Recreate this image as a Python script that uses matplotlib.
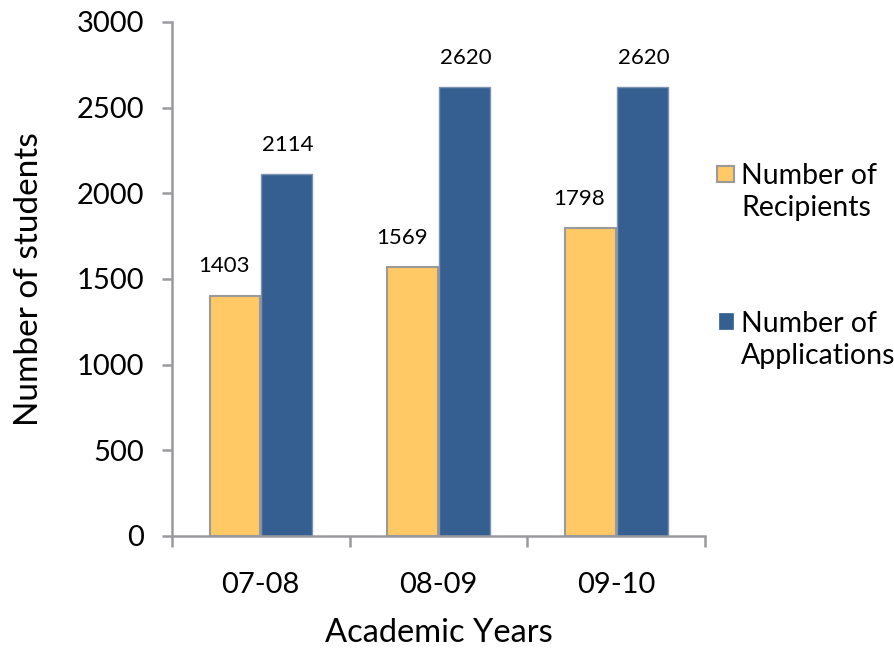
import matplotlib
matplotlib.use("Agg")
import matplotlib.pyplot as plt
from matplotlib.patches import Rectangle
import numpy as np

years = ["07-08", "08-09", "09-10"]
recipients = [1403, 1569, 1798]
applications = [2114, 2620, 2620]
series_names = ["Number of\nRecipients", "Number of\nApplications"]
y_ticks = [0, 500, 1000, 1500, 2000, 2500, 3000]

plt.rcParams["font.family"] = ["Lato", "DejaVu Sans"]

fig = plt.figure(figsize=(8.95, 6.56), dpi=100)
ax = fig.add_axes([0.192, 0.183, 0.596, 0.7835])

x = np.arange(len(years))
w = 0.285
yellow = "#FFC966"
blue = "#355F91"
yellow_edge = "#9A9A9A"
blue_edge = "#7D93B0"
axis_grey = "#9A9A9E"

b1 = ax.bar(x - w / 2 - 0.003, recipients, w, color=yellow, edgecolor=yellow_edge, linewidth=1.5)
b2 = ax.bar(x + w / 2 + 0.003, applications, w, color=blue, edgecolor=blue_edge, linewidth=1.0)

# value labels above each bar; the recipient labels sit a little to the left
for bars, vals, dx in ((b1, recipients, -8), (b2, applications, 1)):
    for rect, v in zip(bars, vals):
        ax.annotate(f"{v}", (rect.get_x() + rect.get_width() / 2, v),
                    xytext=(dx, 21), textcoords="offset points",
                    ha="center", va="center", fontsize=16, color="black")

ax.set_xlim(-0.5, len(years) - 0.5)
ax.set_ylim(0, 3000)
ax.set_yticks(y_ticks)
ax.set_yticklabels([str(t) for t in y_ticks], fontsize=21)
ax.set_xticks(np.arange(len(years) + 1) - 0.5)
ax.set_xticklabels([])
ax.set_xticks(x, minor=True)
ax.set_xticklabels(years, minor=True, fontsize=21)
ax.tick_params(axis="x", which="minor", length=0, pad=26)
ax.tick_params(axis="x", which="major", length=8, width=1.8, color=axis_grey, direction="out")
ax.tick_params(axis="y", length=7, width=1.8, color=axis_grey, direction="out", pad=13)

for s in ("top", "right"):
    ax.spines[s].set_visible(False)
for s in ("left", "bottom"):
    ax.spines[s].set_color(axis_grey)
    ax.spines[s].set_linewidth(1.8)

ax.set_ylabel("Number of students", fontsize=24)
ax.set_xlabel("Academic Years", fontsize=23.5)
ax.yaxis.set_label_coords(-0.24, 0.5)
ax.xaxis.set_label_coords(0.5, -0.16)

# Legend drawn as square swatches beside two-line labels
swatches = [
    dict(xy=(0.801, 0.7226), w=0.019, h=0.0244, fc=yellow, ec=yellow_edge, lw=1.5),
    dict(xy=(0.803, 0.4985), w=0.016, h=0.0244, fc=blue, ec=blue, lw=0.5),
]
label_y = [0.7073, 0.4817]
for sw, name, ty in zip(swatches, series_names, label_y):
    fig.patches.append(Rectangle(sw["xy"], sw["w"], sw["h"], transform=fig.transFigure,
                                 facecolor=sw["fc"], edgecolor=sw["ec"], linewidth=sw["lw"]))
    fig.text(0.828, ty, name, fontsize=20.5, ha="left", va="center", linespacing=1.26)

fig.savefig("out.png", dpi=100)
